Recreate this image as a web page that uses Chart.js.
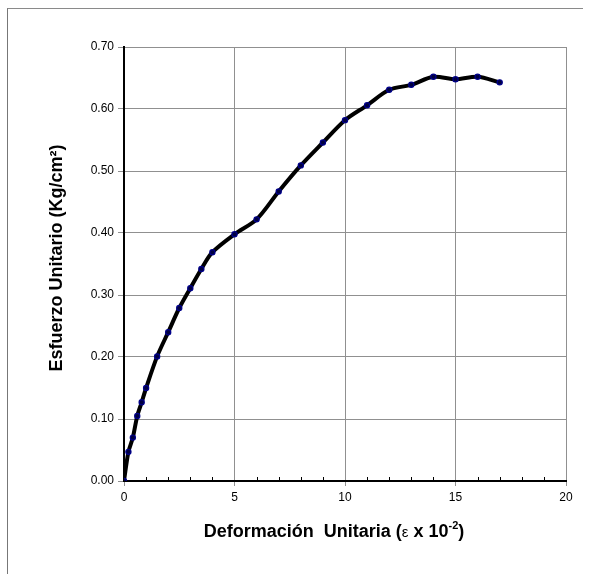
<!DOCTYPE html>
<html>
<head>
<meta charset="utf-8">
<script src="https://cdn.jsdelivr.net/npm/chart.js@4"></script>
<style>
  body { margin: 0; background: #fff; }
  #wrap { position: relative; width: 591px; height: 574px; }
  #frame {
    position: absolute; left: 7px; top: 8px; width: 575px; height: 566px;
    border-top: 1px solid #8a8a8a; border-left: 1px solid #777;
    pointer-events: none;
  }
</style>
</head>
<body>
<div id="wrap">
  <canvas id="curve" width="591" height="574"></canvas>
  <div id="frame"></div>
</div>
<script>
// strain (x 10^-2) and stress (Kg/cm2)
const strain = [0, 0.2, 0.4, 0.6, 0.8, 1.0, 1.5, 2.0, 2.5, 3.0, 3.5, 4.0, 5.0,
                6.0, 7.0, 8.0, 9.0, 10.0, 11.0, 12.0, 13.0, 14.0, 15.0, 16.0, 17.0];
const stress = [0, 0.047, 0.070, 0.105, 0.127, 0.150, 0.201, 0.240, 0.279, 0.311, 0.342, 0.369, 0.398,
                0.422, 0.467, 0.509, 0.546, 0.582, 0.606, 0.631, 0.639, 0.652, 0.648, 0.652, 0.643];

const xTicks = [0, 5, 10, 15, 20];
const yTicks = [0, 0.1, 0.2, 0.3, 0.4, 0.5, 0.6, 0.7];

const xTitle = "Deformación  Unitaria (";
const xTitleEps = "ε";
const xTitleRest = " x 10";
const xTitleSup = "-2";
const yTitle = "Esfuerzo Unitario (Kg/cm²)";

const points = strain.map((x, i) => ({ x: x, y: stress[i] }));

// --- minor ticks on the x axis + axis titles ---
const extras = {
  id: 'extras',
  afterDraw(chart) {
    const ctx = chart.ctx;
    const xs = chart.scales.x;
    const area = chart.chartArea;

    ctx.save();
    ctx.strokeStyle = '#000';
    ctx.lineWidth = 1;
    for (let v = 1; v < 20; v++) {
      if (v % 5 === 0) continue;
      const px = Math.round(xs.getPixelForValue(v)) + 0.5;
      ctx.beginPath();
      ctx.moveTo(px, area.bottom);
      ctx.lineTo(px, area.bottom - 4);
      ctx.stroke();
    }

    // x title with superscript, pieces laid side by side
    ctx.fillStyle = '#000';
    ctx.textBaseline = 'alphabetic';
    const big = 'bold 18px "Liberation Sans", Arial, sans-serif';
    const eps = '15px "Liberation Sans", Arial, sans-serif';
    const small = 'bold 11px "Liberation Sans", Arial, sans-serif';
    const parts = [
      [xTitle, big, 537], [xTitleEps, eps, 537], [xTitleRest, big, 537],
      [xTitleSup, small, 529], [')', big, 537]
    ];
    let total = 0;
    parts.forEach(p => { ctx.font = p[1]; p.push(ctx.measureText(p[0]).width); total += p[3]; });
    let sx = 334 - total / 2;
    parts.forEach(p => {
      ctx.font = p[1];
      ctx.fillText(p[0], sx, p[2]);
      sx += p[3];
    });

    // y title, rotated
    ctx.translate(62, 258);
    ctx.rotate(-Math.PI / 2);
    ctx.textAlign = 'center';
    ctx.font = big;
    ctx.fillText(yTitle, 0, 0);
    ctx.restore();
  }
};

new Chart(document.getElementById('curve'), {
  type: 'scatter',
  data: {
    datasets: [{
      data: points,
      showLine: true,
      borderColor: '#000',
      borderWidth: 4,
      tension: 0.3,
      pointRadius: 2.6,
      pointBackgroundColor: '#000040',
      pointBorderColor: '#00008b',
      pointBorderWidth: 1.2
    }]
  },
  options: {
    responsive: false,
    devicePixelRatio: 1,
    animation: false,
    layout: { padding: { left: 0, top: 47, right: 25, bottom: 0 } },
    plugins: { legend: { display: false }, tooltip: { enabled: false } },
    scales: {
      x: {
        type: 'linear', min: 0, max: 20,
        afterBuildTicks: s => { s.ticks = xTicks.map(v => ({ value: v })); },
        afterFit: s => { s.height = 93; },
        grid: { color: '#909090', lineWidth: 1, tickLength: 5 },
        border: { color: '#000', width: 2 },
        ticks: { color: '#000', padding: 4, maxRotation: 0,
                 font: { size: 12, family: '"Liberation Sans", Arial, sans-serif' } }
      },
      y: {
        type: 'linear', min: 0, max: 0.7,
        afterBuildTicks: s => { s.ticks = yTicks.map(v => ({ value: v })); },
        afterFit: s => { s.width = 124; },
        grid: { color: '#909090', lineWidth: 1, tickLength: 6 },
        border: { color: '#000', width: 2 },
        ticks: { color: '#000', padding: 4,
                 callback: v => Number(v).toFixed(2),
                 font: { size: 12, family: '"Liberation Sans", Arial, sans-serif' } }
      }
    }
  },
  plugins: [extras]
});
</script>
</body>
</html>
